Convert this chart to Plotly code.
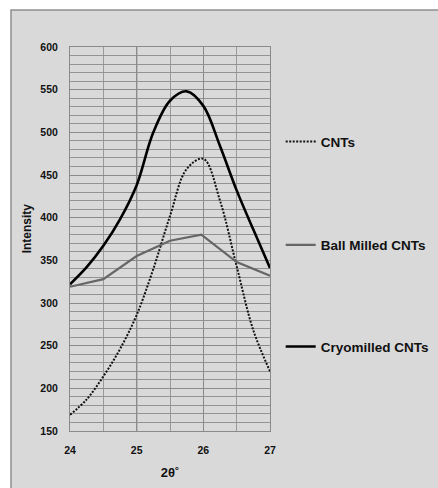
import plotly.graph_objects as go

# ---- data ----
cnt_x = [24, 24.25, 24.5, 24.75, 25, 25.25, 25.5, 25.75, 26, 26.25, 26.5, 26.75, 27]
cnt_y = [169, 187, 214, 246, 286, 340, 402, 457, 469, 420, 343, 268, 220]

ball_x = [24, 24.5, 25, 25.5, 25.97, 26.5, 27]
ball_y = [319, 328, 355, 373, 380, 348, 332]

cryo_x = [24, 24.25, 24.5, 24.75, 25, 25.25, 25.5, 25.75, 26, 26.25, 26.5, 26.75, 27]
cryo_y = [322, 342, 367, 398, 438, 500, 537, 548, 531, 484, 432, 386, 341]

x_ticks = [24, 25, 26, 27]
y_ticks = [150, 200, 250, 300, 350, 400, 450, 500, 550, 600]
y_tick_text = ["150", "200", "250", "300", "350", "400", "450", "500", "550", "600"]
dark_grid_x = [25]

FONT = "Arial, 'Liberation Sans', sans-serif"
BG = "#d9d9d9"
TXT = "#111111"

fig = go.Figure()

fig.add_trace(go.Scatter(
    x=cnt_x, y=cnt_y, mode="lines", name="CNTs",
    line=dict(color="#111111", width=2, dash="2px,1.5px", shape="spline", smoothing=1.0),
    legend="legend",
))
fig.add_trace(go.Scatter(
    x=ball_x, y=ball_y, mode="lines", name="Ball Milled CNTs",
    line=dict(color="#666666", width=2.2),
    legend="legend2",
))
fig.add_trace(go.Scatter(
    x=cryo_x, y=cryo_y, mode="lines", name="Cryomilled CNTs",
    line=dict(color="#000000", width=2.6, shape="spline", smoothing=1.0),
    legend="legend3",
))

# background panel with border (top/left visible)
fig.add_shape(type="rect", xref="paper", yref="paper",
              x0=-0.295, x1=2.2, y0=-0.3, y1=1.0964,
              fillcolor=BG, line=dict(color="#8f8f8f", width=1.5), layer="below")

for gx in dark_grid_x:
    fig.add_shape(type="line", xref="x", yref="paper", x0=gx, x1=gx, y0=0, y1=1,
                  line=dict(color="#222222", width=1), layer="below")

fig.add_annotation(text="Intensity", xref="paper", yref="paper",
                   x=(26.7 - 70) / 200, y=(431 - 228.6) / 384,
                   xanchor="center", yanchor="middle", textangle=-90, showarrow=False,
                   font=dict(family=FONT, size=12, color=TXT, weight="bold"))

leg_common = dict(
    bgcolor="rgba(0,0,0,0)", borderwidth=0,
    font=dict(family=FONT, size=13.5, color=TXT, weight="bold"),
    xanchor="left", yanchor="middle", x=1.0535,
    itemwidth=30, tracegroupgap=0,
)

fig.update_layout(
    width=438, height=488,
    margin=dict(l=70, r=168, t=47, b=57, autoexpand=False),
    paper_bgcolor="white",
    plot_bgcolor=BG,
    showlegend=True,
    legend=dict(y=(431 - 141.7) / 384, **leg_common),
    legend2=dict(y=(431 - 245) / 384, **leg_common),
    legend3=dict(y=(431 - 346.7) / 384, **leg_common),
    xaxis=dict(
        range=[24, 27], tickvals=x_ticks, ticktext=[str(v) for v in x_ticks],
        showgrid=True, gridcolor="#8a8a8a", gridwidth=1,
        minor=dict(dtick=0.5, tick0=24, showgrid=True, gridcolor="#9a9a9a", gridwidth=1),
        showline=True, linecolor="#8a8a8a", linewidth=1, mirror=True,
        ticks="", ticklabelstandoff=9,
        tickfont=dict(family=FONT, size=10.5, color=TXT, weight="bold"),
        title=dict(text="2θ˚", standoff=13,
                   font=dict(family=FONT, size=13, color=TXT, weight="bold")),
        zeroline=False,
    ),
    yaxis=dict(
        range=[150, 600], tickvals=y_ticks, ticktext=y_tick_text,
        showgrid=True, gridcolor="#8a8a8a", gridwidth=1,
        minor=dict(dtick=10, tick0=150, showgrid=True, gridcolor="#939393", gridwidth=1),
        showline=True, linecolor="#8a8a8a", linewidth=1, mirror=True,
        ticks="", ticklabelstandoff=9,
        tickfont=dict(family=FONT, size=10.5, color=TXT, weight="bold"),
        zeroline=False,
    ),
)

fig.write_html("out.html")
